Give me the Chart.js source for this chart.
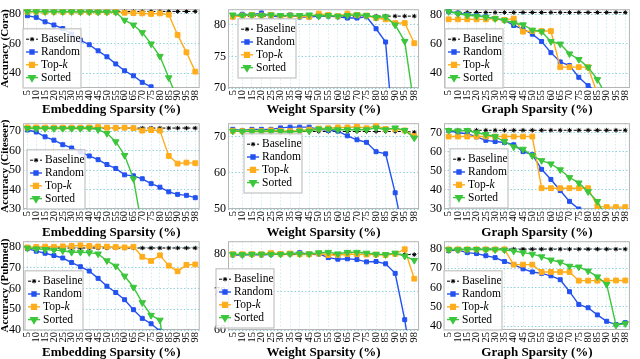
<!DOCTYPE html>
<html>
<head>
<meta charset="utf-8">
<script src="https://cdn.jsdelivr.net/npm/chart.js@4/dist/chart.umd.min.js"></script>
<style>
  html, body { margin: 0; padding: 0; background: #fff; }
  #wrap { position: relative; width: 640px; height: 359px; overflow: hidden; }
  #wrap canvas { position: absolute; }
</style>
</head>
<body>
<div id="wrap"></div>
<script>
const sparsity = ['5','10','15','20','25','30','35','40','45','50','55','60','65','70','75','80','85','90','95','98'];

// Cora
const coraEmbBaseline = [81.5,81.5,81.5,81.5,81.5,81.5,81.5,81.5,81.5,81.5,81.5,81.5,81.5,81.5,81.5,81.5,81.5,81.5,81.5,81.5];
const coraEmbRandom = [78.6,77.5,74.5,72.4,70.0,66.3,62.2,59.1,55.0,51.0,46.2,41.6,38.2,33.8,30.8,null,null,null,null,null];
const coraEmbTopk = [81.3,81.3,81.2,81.2,81.1,81.2,81.1,81.0,81.0,81.0,81.1,80.6,80.4,80.2,79.8,80.2,79.3,65.7,54.0,41.0];
const coraEmbSorted = [81.4,81.4,81.3,81.3,81.3,81.3,81.2,81.2,81.1,81.1,81.0,75.6,72.4,67.3,59.7,51.3,36.9,22.0,null,null];
const coraEmbTicks = [40,60,80];

const coraWtBaseline = [81.4,81.4,81.4,81.4,81.4,81.4,81.4,81.4,81.4,81.4,81.4,81.4,81.4,81.4,81.4,81.4,81.4,81.4,81.4,81.4];
const coraWtRandom = [81.3,81.7,81.6,81.9,81.4,81.3,81.6,81.25,81.25,81.4,81.4,81.3,81.1,81.1,81.3,79.4,77.3,59.0,null,null];
const coraWtTopk = [81.3,81.5,81.6,81.5,81.6,81.4,81.5,81.4,81.3,81.8,81.6,81.4,81.8,81.6,81.5,81.1,80.9,80.3,80.3,77.1];
const coraWtSorted = [81.6,81.5,81.6,81.5,81.6,81.5,81.5,81.5,81.6,81.4,81.5,81.4,81.5,81.6,81.5,81.2,81.3,80.0,77.4,67.0];
const coraWtTicks = [70,75,80];

const coraGrBaseline = [81.5,81.5,81.5,81.5,81.5,81.5,81.5,81.5,81.5,81.5,81.5,81.5,81.5,81.5,81.5,81.5,81.5,81.5,81.5,81.5];
const coraGrRandom = [82.1,81.0,80.0,79.4,78.5,77.3,76.2,72.6,70.1,66.7,61.7,54.1,47.8,45.3,37.3,31.6,27.0,null,null,null];
const coraGrTopk = [76.8,76.8,76.8,76.8,76.8,77.3,76.4,77.3,68.4,68.8,68.8,68.8,44.2,44.2,44.2,44.2,26.0,null,null,null];
const coraGrSorted = [82.1,80.6,79.6,79.0,78.3,77.3,76.2,74.3,73.1,69.5,68.4,61.7,60.0,53.3,49.5,44.2,35.8,24.0,null,null];
const coraGrTicks = [40,60,80];

// Citeseer
const citeEmbBaseline = [71.5,71.5,71.5,71.5,71.5,71.5,71.5,71.5,71.5,71.5,71.5,71.5,71.5,71.5,71.5,71.5,71.5,71.5,71.5,71.5];
const citeEmbRandom = [70.5,69.5,67.0,65.3,63.0,61.3,59.2,57.2,55.3,52.8,50.8,47.5,47.0,45.5,43.0,41.2,38.8,37.5,37.0,35.8];
const citeEmbTopk = [71.8,71.8,71.7,71.7,71.7,71.7,71.7,71.8,72.0,71.7,71.6,71.7,71.5,70.2,70.5,70.2,57.2,53.3,53.8,53.5];
const citeEmbSorted = [71.3,71.3,71.3,71.3,71.3,71.3,71.3,71.4,70.7,68.8,64.5,57.5,45.5,20.0,null,null,null,null,null,null];
const citeEmbTicks = [30,40,50,60,70];

const citeWtBaseline = [71.5,71.5,71.5,71.5,71.5,71.5,71.5,71.5,71.5,71.5,71.5,71.5,71.5,71.5,71.5,71.5,71.5,71.5,71.5,71.3];
const citeWtRandom = [72.1,71.8,72.1,72.1,72.1,72.5,72.7,72.7,72.7,72.1,71.8,71.6,70.3,69.2,68.5,65.9,65.3,54.5,41.0,null];
const citeWtTopk = [71.7,71.6,71.7,71.6,71.8,71.7,71.6,71.8,72.0,72.3,72.4,72.6,72.6,72.8,72.4,73.0,72.2,72.2,71.8,70.2];
const citeWtSorted = [71.6,71.5,71.5,71.5,71.5,71.5,71.3,71.6,71.6,72.2,72.2,72.0,72.0,72.0,72.0,72.5,72.0,72.5,71.8,69.7];
const citeWtTicks = [50,60,70];

const citeGrBaseline = [71.3,71.3,71.3,71.3,71.3,71.3,71.3,71.3,71.3,71.3,71.3,71.3,71.3,71.3,71.3,71.3,71.3,71.3,71.3,71.3];
const citeGrRandom = [71.2,70.0,69.5,67.8,66.0,65.4,64.9,63.7,60.1,58.5,50.8,45.5,39.7,34.0,30.0,null,null,null,null,null];
const citeGrTopk = [68.0,68.0,68.0,68.0,68.0,68.0,68.0,68.0,68.0,68.0,40.9,40.9,40.9,40.9,40.9,40.9,31.4,31.0,31.0,31.0];
const citeGrSorted = [71.2,71.0,71.2,70.0,69.1,68.0,65.4,62.6,61.4,58.0,55.4,53.7,50.6,46.5,43.7,39.1,34.0,25.0,null,null];
const citeGrTicks = [30,40,50,60,70];

// Pubmed
const pubEmbBaseline = [79.5,79.5,79.5,79.5,79.5,79.5,79.5,79.5,79.5,79.5,79.5,79.5,79.5,79.5,79.5,79.5,79.5,79.5,79.5,79.5];
const pubEmbRandom = [79.2,78.0,77.0,75.9,74.7,72.5,70.5,68.4,64.9,61.1,58.1,54.6,49.8,45.6,43.0,39.5,null,null,null,null];
const pubEmbTopk = [79.8,80.0,80.2,80.1,80.3,80.5,80.8,80.5,80.3,80.2,80.0,79.8,80.1,75.3,73.3,76.0,71.0,68.3,71.4,71.6];
const pubEmbSorted = [79.5,79.1,78.8,78.5,78.2,77.5,77.5,77.3,76.7,73.4,70.8,66.0,60.6,53.2,47.1,44.8,15.0,null,null,null];
const pubEmbTicks = [40,50,60,70,80];

const pubWtBaseline = [79.7,79.7,79.7,79.7,79.7,79.7,79.7,79.7,79.7,79.7,79.7,79.7,79.7,79.7,79.7,79.7,79.7,79.7,79.7,79.7];
const pubWtRandom = [79.6,79.6,79.7,79.6,79.8,79.9,79.9,80.2,79.8,79.9,78.9,78.5,78.6,78.4,77.8,77.9,77.3,74.8,62.7,47.0];
const pubWtTopk = [79.8,79.8,79.8,79.8,80.1,79.9,80.0,79.8,79.8,80.0,79.6,79.6,79.8,79.8,79.7,79.7,79.6,79.9,81.1,73.4];
const pubWtSorted = [79.8,79.7,79.8,79.8,79.8,79.8,79.9,79.9,79.9,80.2,80.3,79.9,80.3,80.3,80.1,79.8,79.7,80.1,79.3,78.2];
const pubWtTicks = [60,70,80];

const pubGrBaseline = [79.8,79.8,79.8,79.8,79.8,79.8,79.8,79.8,79.8,79.8,79.8,79.8,79.8,79.8,79.8,79.8,79.8,79.8,79.8,79.8];
const pubGrRandom = [79.0,79.3,78.0,77.5,76.4,75.4,73.4,71.8,69.6,68.0,67.3,66.0,64.0,57.8,51.2,49.5,45.8,42.5,40.8,41.8];
const pubGrTopk = [79.7,79.7,79.7,79.7,79.7,79.7,79.7,71.8,71.8,71.8,68.0,68.0,68.0,68.0,63.5,63.5,63.5,63.5,63.6,63.6];
const pubGrSorted = [79.5,79.5,79.6,79.6,79.5,79.5,79.4,78.8,78.0,77.2,75.9,74.2,73.1,71.0,70.6,68.5,65.5,61.6,40.5,41.3];
const pubGrTicks = [40,50,60,70,80];

const seriesNames = ['Baseline', 'Random', 'Top-k', 'Sorted'];

// looks
const seriesStyle = [
  { color: '#000000', pointStyle: 'star', radius: 2.2, width: 1, dash: [3, 2], rotation: 0 },
  { color: '#2352f0', pointStyle: 'rect', radius: 2.8, width: 1.4, dash: [], rotation: 0 },
  { color: '#ffad1c', pointStyle: 'rect', radius: 3.4, width: 1.4, dash: [], rotation: 0 },
  { color: '#3cc63c', pointStyle: 'triangle', radius: 3.8, width: 1.4, dash: [], rotation: 180 },
];
const cols = [
  { left: 0, width: 210, yW: 23, padR: 2 },
  { left: 208, width: 221, yW: 20, padR: 3 },
  { left: 424, width: 216, yW: 20, padR: 2 },
];
const rows = [
  { top: 0, height: 116, padT: 2, xH: 28 },
  { top: 114, height: 125, padT: 7, xH: 30 },
  { top: 232, height: 127, padT: 5, xH: 29 },
];

const panels = [
  { r: 0, c: 0, yTitle: 'Accuracy (Cora)', xTitle: 'Embedding Sparsity (%)', min: 30, max: 83, ticks: coraEmbTicks,
    data: [coraEmbBaseline, coraEmbRandom, coraEmbTopk, coraEmbSorted], lg: [0, 0] },
  { r: 0, c: 1, xTitle: 'Weight Sparsity (%)', min: 70, max: 82.5, ticks: coraWtTicks,
    data: [coraWtBaseline, coraWtRandom, coraWtTopk, coraWtSorted], lg: [10, 10] },
  { r: 0, c: 2, xTitle: 'Graph Sparsity (%)', min: 30, max: 83.7, ticks: coraGrTicks,
    data: [coraGrBaseline, coraGrRandom, coraGrTopk, coraGrSorted], lg: [1, 0] },
  { r: 1, c: 0, yTitle: 'Accuracy (Citeseer)', xTitle: 'Embedding Sparsity (%)', min: 30, max: 74, ticks: citeEmbTicks,
    data: [citeEmbBaseline, citeEmbRandom, citeEmbTopk, citeEmbSorted], lg: [4, 0] },
  { r: 1, c: 1, xTitle: 'Weight Sparsity (%)', min: 50, max: 73.8, ticks: citeWtTicks,
    data: [citeWtBaseline, citeWtRandom, citeWtTopk, citeWtSorted], lg: [16, 16] },
  { r: 1, c: 2, xTitle: 'Graph Sparsity (%)', min: 30, max: 75, ticks: citeGrTicks,
    data: [citeGrBaseline, citeGrRandom, citeGrTopk, citeGrSorted], lg: [6, 1] },
  { r: 2, c: 0, yTitle: 'Accuracy (Pubmed)', xTitle: 'Embedding Sparsity (%)', min: 40, max: 82.8, ticks: pubEmbTicks,
    data: [pubEmbBaseline, pubEmbRandom, pubEmbTopk, pubEmbSorted], lg: [2, 0] },
  { r: 2, c: 1, xTitle: 'Weight Sparsity (%)', min: 60, max: 83.2, ticks: pubWtTicks,
    data: [pubWtBaseline, pubWtRandom, pubWtTopk, pubWtSorted], lg: [-12, 2] },
  { r: 2, c: 2, xTitle: 'Graph Sparsity (%)', min: 38, max: 83.9, ticks: pubGrTicks,
    data: [pubGrBaseline, pubGrRandom, pubGrTopk, pubGrSorted], lg: [0, 0] },
];

const SERIF = "'Liberation Serif', 'Times New Roman', serif";
Chart.defaults.font.family = SERIF;
Chart.defaults.color = '#000';

const frame = {
  id: 'frame',
  beforeDatasetsDraw(chart) {
    const a = chart.chartArea, ctx = chart.ctx;
    ctx.save();
    ctx.strokeStyle = '#b5b5b5';
    ctx.lineWidth = 1;
    ctx.strokeRect(a.left + 0.5, a.top + 0.5, a.right - a.left - 1, a.bottom - a.top - 1);
    ctx.restore();
  }
};

const insideLegend = {
  id: 'insideLegend',
  afterDatasetsDraw(chart, args, opts) {
    const ctx = chart.ctx, a = chart.chartArea;
    const rowH = 12.8, w = 58, h = 4 * rowH + 8;
    const left = a.left + opts.dx, bottom = a.bottom - opts.dy, top = bottom - h;
    ctx.save();
    ctx.fillStyle = 'rgba(255,255,255,0.85)';
    ctx.fillRect(left, top, w, h);
    ctx.strokeStyle = '#c4c4c4';
    ctx.lineWidth = 1.2;
    ctx.strokeRect(left, top, w, h);
    chart.data.datasets.forEach((ds, i) => {
      const y = top + 4 + rowH * i + rowH / 2;
      ctx.strokeStyle = ds.borderColor;
      ctx.fillStyle = ds.borderColor;
      ctx.lineWidth = ds.borderWidth;
      ctx.setLineDash(ds.borderDash || []);
      ctx.beginPath();
      ctx.moveTo(left + 3, y);
      ctx.lineTo(left + 15, y);
      ctx.stroke();
      ctx.setLineDash([]);
      Chart.helpers.drawPoint(ctx, {
        pointStyle: ds.pointStyle, radius: ds.pointRadius, rotation: ds.pointRotation, borderWidth: 1
      }, left + 9, y);
      ctx.fillStyle = '#000';
      ctx.textBaseline = 'middle';
      ctx.textAlign = 'left';
      const name = ds.label;
      if (name === 'Top-k') {
        ctx.font = '11.5px ' + SERIF;
        ctx.fillText('Top-', left + 18, y);
        const tw = ctx.measureText('Top-').width;
        ctx.font = 'italic 11.5px ' + SERIF;
        ctx.fillText('k', left + 18 + tw, y);
      } else {
        ctx.font = '11.5px ' + SERIF;
        ctx.fillText(name, left + 18, y);
      }
    });
    ctx.restore();
  }
};

const wrap = document.getElementById('wrap');

panels.forEach(p => {
  const col = cols[p.c], row = rows[p.r];
  const canvas = document.createElement('canvas');
  canvas.width = col.width;
  canvas.height = row.height;
  canvas.style.left = col.left + 'px';
  canvas.style.top = row.top + 'px';
  wrap.appendChild(canvas);

  const datasets = p.data.map((values, i) => {
    const s = seriesStyle[i];
    return {
      label: seriesNames[i],
      data: values,
      borderColor: s.color,
      backgroundColor: s.color,
      pointBackgroundColor: s.color,
      pointBorderColor: s.color,
      borderWidth: s.width,
      borderDash: s.dash,
      pointStyle: s.pointStyle,
      pointRadius: s.radius,
      pointRotation: s.rotation,
      pointBorderWidth: 1,
      tension: 0,
      order: 4 - i,
    };
  });

  new Chart(canvas, {
    type: 'line',
    data: { labels: sparsity, datasets: datasets },
    options: {
      responsive: false,
      animation: false,
      events: [],
      layout: { padding: { top: row.padT, right: col.padR, left: 0, bottom: 0 } },
      plugins: {
        legend: { display: false },
        tooltip: { enabled: false },
        insideLegend: { dx: p.lg[0], dy: p.lg[1] },
      },
      scales: {
        x: {
          offset: true,
          grid: { color: 'rgba(110,195,210,0.32)', drawTicks: false, offset: false },
          border: { display: false, dash: [1.5, 2] },
          ticks: { autoSkip: false, minRotation: 90, maxRotation: 90, padding: 2, font: { size: 10.5 } },
          title: { display: true, text: p.xTitle, padding: 0, font: { size: 13, weight: 'bold', lineHeight: 1 } },
          afterFit: s => { s.height = row.xH; },
        },
        y: {
          min: p.min,
          max: p.max,
          afterBuildTicks: s => { s.ticks = p.ticks.map(v => ({ value: v })); },
          grid: { color: 'rgba(110,195,210,0.75)', drawTicks: false },
          border: { display: false, dash: [1.5, 2] },
          ticks: { padding: 2, font: { size: 12 } },
          title: { display: !!p.yTitle, text: p.yTitle || '', padding: 0, font: { size: 11, weight: 'bold', lineHeight: 1 } },
          afterFit: s => { s.width = col.yW; },
        },
      },
    },
    plugins: [frame, insideLegend],
  });
});
</script>
</body>
</html>
